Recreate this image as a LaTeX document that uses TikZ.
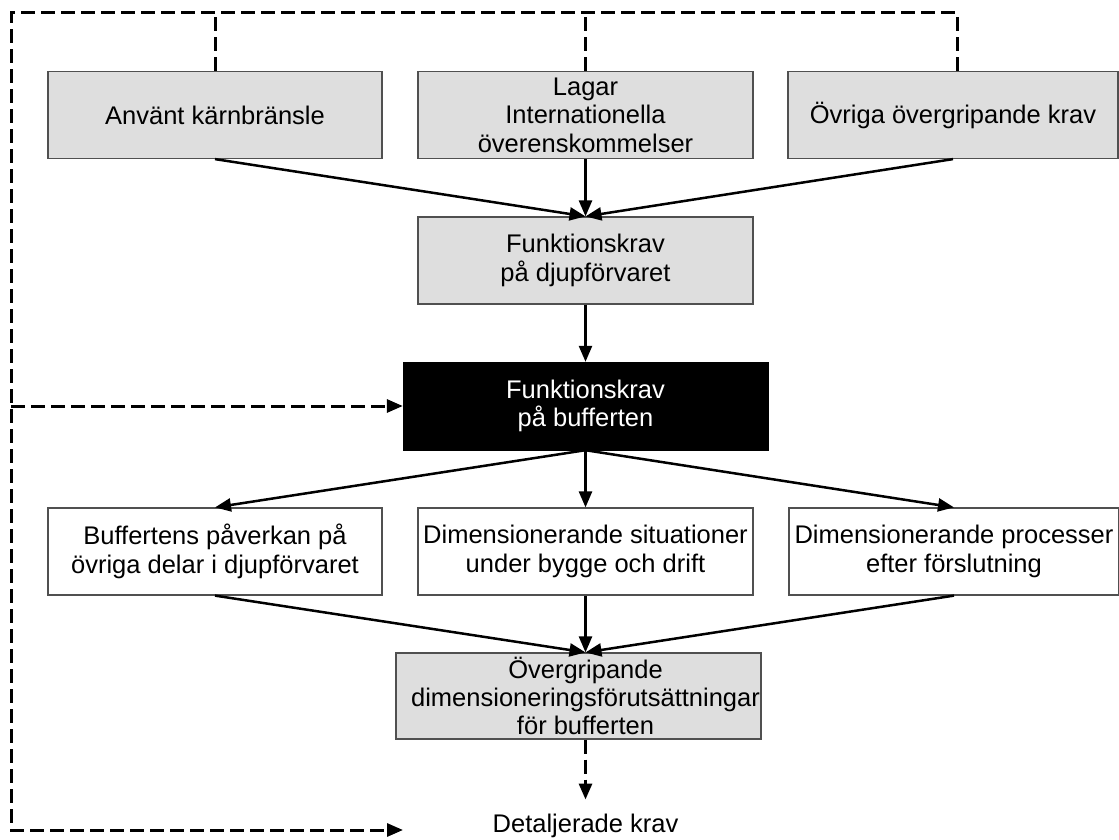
\documentclass[tikz,border=0pt]{standalone}
\usepackage{fontspec}
\setmainfont{Liberation Sans}
\usetikzlibrary{arrows.meta}
\definecolor{boxgray}{HTML}{DEDEDE}
\definecolor{edgegray}{HTML}{505050}
\begin{document}
\begin{tikzpicture}[x=1pt,y=-1pt,
  every node/.style={font=\fontsize{25.5}{28.4}\selectfont, align=center, inner sep=0pt},
  box/.style={draw=edgegray, line width=1.2pt, minimum height=87pt},
  graybox/.style={box, fill=boxgray},
  whitebox/.style={box, fill=white},
  blackbox/.style={draw=black, fill=black, text=white, minimum height=88pt},
  flow/.style={line width=2.5pt, -{Triangle[length=16pt,width=13pt]}},
  feedback/.style={line width=3pt, dash pattern=on 14pt off 6pt},
  feedbackarrow/.style={feedback, -{Triangle[length=16pt,width=13pt]}}]
\useasboundingbox (0,0) rectangle (1119,840);

% top row of inputs
\node[graybox, minimum width=334pt] (anv) at (215,115) {Använt kärnbränsle};
\node[graybox, minimum width=335pt] (lag) at (585.5,115) {Lagar\\Internationella\\överenskommelser};
\node[graybox, minimum width=330pt] (ovr) at (953,115) {Övriga övergripande krav};

% requirement chain
\node[graybox, minimum width=335pt] (djup) at (585.5,260.5) {Funktionskrav\\på djupförvaret};
\node[blackbox, minimum width=365pt] (buf) at (585.5,406) {Funktionskrav\\på bufferten};

% middle row
\node[whitebox, minimum width=334pt] (pav) at (215,551.5) {Buffertens påverkan på\\övriga delar i djupförvaret};
\node[whitebox, minimum width=335pt] (sit) at (585.5,551.5) {Dimensionerande situationer\\under bygge och drift};
\node[whitebox, minimum width=330pt] (proc) at (954,551.5) {Dimensionerande processer\\efter förslutning};

% summary box (frame and text drawn as two nodes)
\node[graybox, minimum width=365pt, minimum height=86pt] (dim) at (578.5,696) {};
\node (dimtxt) at (585.5,696) {Övergripande\\dimensioneringsförutsättningar\\för bufferten};

% outcome
\node[anchor=base, outer ysep=14pt] (det) at (585.5,832) {Detaljerade krav};

% feedback frame corners
\coordinate (tl) at (11,13);
\coordinate (bl) at (11,830);
\coordinate (blend) at (403,830);

% solid flow
\draw[flow] (anv.south) -- (djup.north);
\draw[flow] (lag.south) -- (djup.north);
\draw[flow] (ovr.south) -- (djup.north);
\draw[flow] (djup.south) -- (buf.north);
\draw[flow] (buf.south) -- (pav.north);
\draw[flow] (buf.south) -- (sit.north);
\draw[flow] (buf.south) -- (proc.north);
\draw[flow] (pav.south) -- (dimtxt |- dim.north);
\draw[flow] (sit.south) -- (dimtxt |- dim.north);
\draw[flow] (proc.south) -- (dimtxt |- dim.north);

% dashed feedback loop
\draw[feedbackarrow] ([xshift=4pt]ovr.north) |- (tl) -- (bl) -- (blend);
\draw[feedback] (anv.north) -- (anv.north |- tl);
\draw[feedback] (lag.north) -- (lag.north |- tl);
\draw[feedbackarrow] (tl |- buf.west) -- (buf.west);
\draw[feedbackarrow] (dimtxt |- dim.south) -- (det.north);
\end{tikzpicture}
\end{document}
